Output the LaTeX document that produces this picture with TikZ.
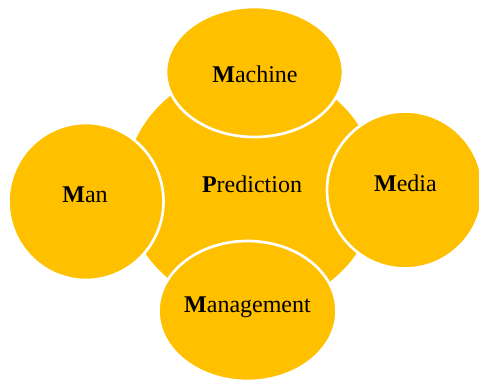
\documentclass[tikz,border=0pt]{standalone}
\usepackage{fontspec}
\setmainfont{Liberation Serif}

\tikzset{every picture/.style={line width=0.75pt}}
\tikzset{
  petal/.style={fill={rgb, 255:red, 255; green, 192; blue, 0 }, draw=white, line width=2pt},
  word/.style={inner sep=0.75pt, font=\fontsize{18}{20}\selectfont}
}

\begin{document}
\begin{tikzpicture}[x=0.75pt,y=0.75pt,yscale=-1,xscale=1]
\useasboundingbox (0,0) rectangle (479,381);

%Shape: Ellipse [id:centre] 
\fill [color={rgb, 255:red, 255; green, 192; blue, 0 }] (251,188) ellipse (126 and 120);
%Shape: Ellipse [id:top] 
\draw [petal] (254.5,72) ellipse (88.5 and 65);
%Shape: Ellipse [id:left] 
\draw [petal] (86,201.5) ellipse (77.5 and 78.5);
%Shape: Ellipse [id:right] 
\draw [petal] (405,190) ellipse (78 and 78.5);
%Shape: Ellipse [id:bottom] 
\draw [petal] (247.5,311) ellipse (89 and 70);

% Text Node
\node [word] (prediction) at (252,184) {\textbf{P}rediction};
% Text Node
\node [word] (machine) at (255,74) {\textbf{M}achine};
% Text Node
\node [word] (man) at (85,195) {\textbf{M}an};
% Text Node
\node [word] (media) at (405.5,183) {\textbf{M}edia};
% Text Node
\node [word] (management) at (247.5,307) {\textbf{M}anagement};

\end{tikzpicture}
\end{document}
